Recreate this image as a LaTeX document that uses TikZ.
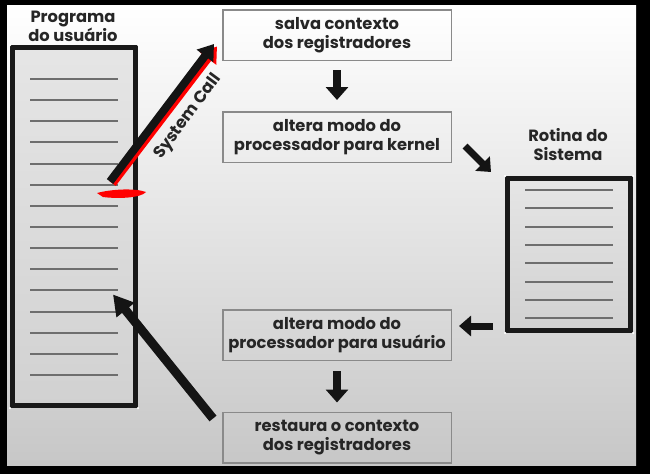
\documentclass[tikz,border=0pt]{standalone}
\usepackage{fontspec}
\setmainfont{Poppins}
\usetikzlibrary{arrows.meta,calc}
\definecolor{txt}{HTML}{262626}
\definecolor{lingray}{HTML}{6E6E6E}
\definecolor{boxgray}{HTML}{8A8A8A}
\begin{document}
\begin{tikzpicture}[x=1pt,y=-1pt,
  stepbox/.style={draw=boxgray, line width=1.5pt, minimum width=228.5pt, minimum height=50.5pt,
    align=center, inner sep=0pt, text=txt, font=\bfseries\fontsize{16.3}{19}\selectfont},
  progbox/.style={draw=black!90, line width=5pt, inner sep=0pt,
    top color=black!10, bottom color=black!18},
  ttl/.style={align=center, text=txt, font=\bfseries\fontsize{16.3}{19}\selectfont},
  ln/.style={draw=lingray, line width=2pt},
  blk/.style={draw=black!92, line width=8pt, -{Triangle[width=22pt,length=13pt]}},
  corner/.style={fill=white, circle, inner sep=0pt, minimum size=2.5pt}
]
\useasboundingbox (0,0) rectangle (650,474);
\fill[black] (0,0) rectangle (650,474);
\shade[top color=white, middle color=white!94!black, bottom color=black!22] (7,5) rectangle (636,465);

% user program
\node[progbox, minimum width=123pt, minimum height=358pt] (prog) at (74,226.5) {};
\foreach \i in {0,...,14} \draw[ln] (30,{79+21.14*\i}) -- (118,{79+21.14*\i});
\foreach \c in {north west,north east,south west,south east} \node[corner] at (prog.\c) {};
\node[ttl] (progl) at (73,26.5) {Programa\\do usuário};

% system routine
\node[progbox, minimum width=123pt, minimum height=152pt] (rot) at (569,254.5) {};
\foreach \i in {0,...,7} \draw[ln] (525,{190+18.3*\i}) -- (613,{190+18.3*\i});
\foreach \c in {north west,north east,south west,south east} \node[corner] at (rot.\c) {};
\node[ttl] (rotl) at (568,145) {Rotina do\\Sistema};

% steps
\node[stepbox] (b1) at (337,35) {salva contexto\\dos registradores};
\node[stepbox] (b2) at (337,137) {altera modo do\\processador para kernel};
\node[stepbox] (b3) at (337,335) {altera modo do\\processador para usuário};
\node[stepbox] (b4) at (337,437.5) {restaura o contexto\\dos registradores};

% connectors
\draw[blk, shorten <=9pt, shorten >=11pt] (b1.south) -- (b2.north);
\draw[blk, shorten <=10pt, shorten >=9pt] (b3.south) -- (b4.north);
\draw[blk, line width=7pt, -{Triangle[width=20pt,length=12pt]}]
  ($(b2.east)+(13,9)$) -- ($(rot.north west)+(-14,-4)$);
\draw[blk, line width=7pt, -{Triangle[width=20pt,length=12pt]}]
  ($(rot.south west)+(-12,-7)$) -- ($(b3.east)+(7,-9)$);
\draw[blk, line width=9pt, -{Triangle[width=22pt,length=20pt]}]
  ($(b4.west)+(-9,-19)$) -- ($(prog.east)+(-25,68)$);

% system call
\coordinate (scs) at ($(prog.east)+(-28,-45)$);
\coordinate (sce) at ($(b1.west)+(-8,9)$);
\draw[draw=red, line width=8pt, -{Triangle[width=20pt,length=15pt]}] ($(scs)+(2.5,2)$) -- ($(sce)+(3,2.5)$);
\draw[blk, -{Triangle[width=20pt,length=15pt]}] (scs) -- (sce);
\node[rotate=53.5, text=txt, font=\bfseries\fontsize{16.5}{18}\selectfont] (scl) at (188,117) {System Call};
\fill[red] (97,193) .. controls (112,189) and (135,188) .. (146,192)
  .. controls (141,198) and (118,199) .. (103,197) -- cycle;
\end{tikzpicture}
\end{document}
